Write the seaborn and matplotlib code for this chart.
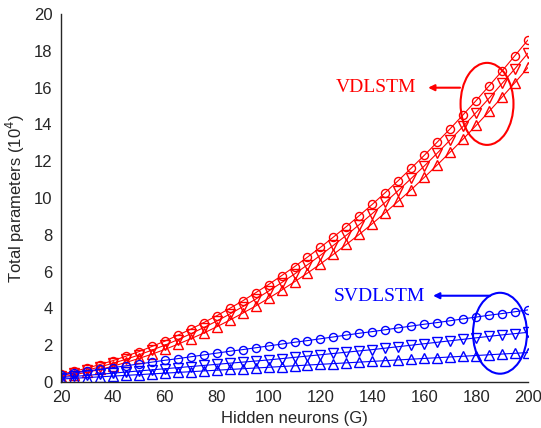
import matplotlib
matplotlib.use("Agg")
import matplotlib.pyplot as plt
from matplotlib.patches import Ellipse
import seaborn as sns
import numpy as np

hidden = [20, 25, 30, 35, 40, 45, 50, 55, 60, 65, 70, 75, 80, 85, 90, 95, 100,
          105, 110, 115, 120, 125, 130, 135, 140, 145, 150, 155, 160, 165, 170,
          175, 180, 185, 190, 195, 200]

vd_circle = [0.42, 0.58, 0.75, 0.95, 1.16, 1.40, 1.65, 1.93, 2.22, 2.54, 2.87, 3.23,
             3.60, 4.00, 4.41, 4.85, 5.30, 5.78, 6.27, 6.79, 7.32, 7.88, 8.45, 9.05,
             9.66, 10.30, 10.95, 11.63, 12.32, 13.04, 13.77, 14.53, 15.30, 16.10,
             16.91, 17.75, 18.60]
vd_down = [0.35, 0.49, 0.64, 0.82, 1.02, 1.23, 1.47, 1.73, 2.00, 2.30, 2.62, 2.96,
           3.31, 3.69, 4.09, 4.50, 4.94, 5.40, 5.87, 6.37, 6.89, 7.43, 7.98, 8.56,
           9.16, 9.77, 10.41, 11.07, 11.74, 12.44, 13.16, 13.90, 14.65, 15.43,
           16.23, 17.04, 17.88]
vd_up = [0.27, 0.39, 0.53, 0.68, 0.86, 1.06, 1.28, 1.51, 1.77, 2.05, 2.35, 2.66,
         3.00, 3.36, 3.74, 4.13, 4.55, 4.99, 5.45, 5.92, 6.42, 6.94, 7.48, 8.03,
         8.61, 9.21, 9.83, 10.46, 11.12, 11.80, 12.50, 13.21, 13.95, 14.71,
         15.49, 16.28, 17.10]
svd_circle = [0.39, 0.49, 0.59, 0.69, 0.78, 0.88, 0.98, 1.08, 1.18, 1.27, 1.37, 1.47,
              1.57, 1.67, 1.76, 1.86, 1.96, 2.06, 2.16, 2.25, 2.35, 2.45, 2.55, 2.65,
              2.74, 2.84, 2.94, 3.04, 3.14, 3.23, 3.33, 3.43, 3.53, 3.63, 3.72, 3.82,
              3.92]
svd_down = [0.24, 0.30, 0.36, 0.42, 0.48, 0.54, 0.60, 0.66, 0.72, 0.78, 0.84, 0.90,
            0.96, 1.02, 1.08, 1.14, 1.20, 1.27, 1.34, 1.41, 1.48, 1.55, 1.62, 1.69,
            1.76, 1.84, 1.92, 2.00, 2.08, 2.16, 2.24, 2.32, 2.40, 2.48, 2.56, 2.63,
            2.70]
svd_up = [0.16, 0.20, 0.24, 0.28, 0.32, 0.36, 0.40, 0.44, 0.48, 0.52, 0.56, 0.60,
          0.64, 0.68, 0.72, 0.76, 0.80, 0.84, 0.88, 0.92, 0.96, 1.00, 1.04, 1.08,
          1.12, 1.16, 1.20, 1.24, 1.28, 1.32, 1.36, 1.40, 1.44, 1.48, 1.52, 1.56,
          1.60]

x_ticks = [20, 40, 60, 80, 100, 120, 140, 160, 180, 200]
y_ticks = [0, 2, 4, 6, 8, 10, 12, 14, 16, 18, 20]

sns.set_style("white")
plt.rcParams['font.family'] = ['Liberation Sans', 'DejaVu Sans']

fig = plt.figure(figsize=(5.41, 4.28), dpi=100)
ax = fig.add_axes([0.1128, 0.1075, 0.8632, 0.8595])

RED = '#ff0000'
BLUE = '#0000ff'
series = [
    (vd_circle, RED, 'o', 5.8),
    (vd_down, RED, 'v', 7.0),
    (vd_up, RED, '^', 7.0),
    (svd_circle, BLUE, 'o', 5.8),
    (svd_down, BLUE, 'v', 7.0),
    (svd_up, BLUE, '^', 7.0),
]
for vals, col, mk, ms in series:
    sns.lineplot(x=hidden, y=vals, ax=ax, color=col, marker=mk,
                 markersize=ms, markerfacecolor='none', markeredgecolor=col,
                 markeredgewidth=1.0, linewidth=0.8)

ax.set_xlim(20, 200)
ax.set_ylim(0, 20)
ax.set_xticks(x_ticks)
ax.set_yticks(y_ticks)
ax.tick_params(direction='in', length=3.5, width=0.7, colors='#262626',
               labelsize=12, pad=6)
for s in ['top', 'right']:
    ax.spines[s].set_visible(False)
for s in ['left', 'bottom']:
    ax.spines[s].set_color('#262626')
    ax.spines[s].set_linewidth(1.0)

ax.set_xlabel('Hidden neurons (G)', fontsize=12, color='#262626', labelpad=4)
ax.set_ylabel('Total parameters (10$^4$)', fontsize=12, color='#262626', labelpad=5)

# annotations
ax.add_patch(Ellipse((184.2, 15.12), 20.4, 4.46, fill=False, edgecolor=RED, linewidth=1.5))
ax.annotate('', xy=(161.5, 16.0), xytext=(173.8, 16.0),
            arrowprops=dict(arrowstyle='-|>', color=RED, lw=1.5, mutation_scale=9,
                            shrinkA=0, shrinkB=0))
ax.text(141.6, 16.0, 'VDLSTM', color=RED, fontsize=14, ha='center', va='center',
        family=['Liberation Serif', 'DejaVu Serif'])

ax.add_patch(Ellipse((189.2, 2.65), 20.8, 4.4, fill=False, edgecolor=BLUE, linewidth=1.5))
ax.annotate('', xy=(163.4, 4.69), xytext=(185.4, 4.69),
            arrowprops=dict(arrowstyle='-|>', color=BLUE, lw=1.5, mutation_scale=9,
                            shrinkA=0, shrinkB=0))
ax.text(142.6, 4.64, 'SVDLSTM', color=BLUE, fontsize=14, ha='center', va='center',
        family=['Liberation Serif', 'DejaVu Serif'])

fig.savefig('out.png', dpi=100)
